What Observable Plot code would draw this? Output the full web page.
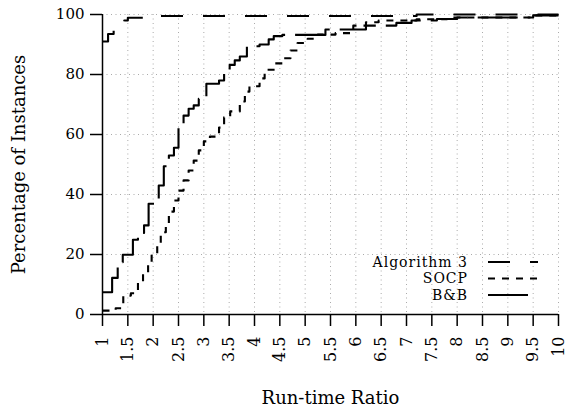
<!DOCTYPE html>
<html>
<head>
<meta charset="utf-8">
<script src="https://cdn.jsdelivr.net/npm/d3@7"></script>
<script src="https://cdn.jsdelivr.net/npm/@observablehq/plot@0.6"></script>
<style>
  html, body { margin: 0; padding: 0; background: #fff; }
  #wrap { position: relative; width: 570px; height: 411px; }
  #legend { position: absolute; left: 0; top: 0; }
</style>
</head>
<body>
<div id="wrap"></div>
<script>
// ---- data (step-after breakpoints) ----
const seriesNames = ["Algorithm 3", "SOCP", "B&B"];

const alg3X = [1, 1.11, 1.22, 1.43, 1.5, 1.8, 7.2, 10];
const alg3Y = [91, 93.5, 95, 98, 98.9, 99.5, 100, 100];

const socpX = [1, 1.26, 1.41, 1.56, 1.7, 1.8, 1.9, 1.97, 2.08, 2.15, 2.25, 2.31, 2.41, 2.5, 2.6, 2.7, 2.8, 2.9, 3.0, 3.12, 3.3, 3.4, 3.52, 3.71, 3.81, 3.9, 4.1, 4.2, 4.4, 4.55, 4.71, 4.85, 5.05, 5.25, 5.6, 5.95, 6.2, 6.45, 7.2, 7.8, 9.5, 10];
const socpY = [1.3, 2.1, 6.3, 7.1, 10.8, 14, 17.4, 20.2, 23.7, 27.4, 30.2, 34.3, 38, 41.3, 44.7, 48, 51.3, 54.7, 57.7, 59.3, 62.3, 65.7, 67.7, 71, 74.3, 76.1, 78.7, 81.6, 83.7, 85.4, 88, 90.5, 91.9, 93.3, 93.8, 96.3, 97.4, 98, 98.4, 99, 99.7, 99.7];

const bbX = [1, 1.19, 1.3, 1.4, 1.6, 1.7, 1.82, 1.91, 2.11, 2.21, 2.31, 2.41, 2.5, 2.6, 2.7, 2.8, 2.9, 3.05, 3.3, 3.4, 3.51, 3.61, 3.71, 3.85, 4.1, 4.28, 4.38, 4.55, 5.4, 6.2, 6.8, 7.1, 7.6, 8.0, 9.5, 10];
const bbY = [7.4, 12.2, 17.4, 19.9, 24.9, 27.2, 29.7, 36.9, 43, 49.4, 53, 55.6, 62.4, 66.3, 68.6, 69.7, 71.9, 76.9, 78, 81.3, 83.2, 84.7, 86, 89.4, 90, 91.7, 92.8, 93.2, 95, 96.3, 97.2, 98, 98.5, 99, 99.7, 99.7];

const xTicks = [1, 1.5, 2, 2.5, 3, 3.5, 4, 4.5, 5, 5.5, 6, 6.5, 7, 7.5, 8, 8.5, 9, 9.5, 10];
const yTicks = [0, 20, 40, 60, 80, 100];

// ---- build table ----
const dashes = {"Algorithm 3": "22,20", "SOCP": "7,7", "B&B": "40,10"};
const toRows = (name, xs, ys) => xs.map((x, i) => ({series: name, x, y: ys[i]}));
const rows = [
  ...toRows("Algorithm 3", alg3X, alg3Y),
  ...toRows("SOCP", socpX, socpY),
  ...toRows("B&B", bbX, bbY)
];

const FONT = "DejaVu Serif";

const chart = Plot.plot({
  width: 570,
  height: 411,
  marginLeft: 102,
  marginRight: 12,
  marginTop: 14,
  marginBottom: 97,
  style: {fontFamily: FONT, fontSize: "15px", color: "#000", background: "#fff"},
  x: {domain: [1, 10]},
  y: {domain: [0, 100]},
  marks: [
    Plot.gridX(xTicks, {stroke: "#aaa", strokeOpacity: 1, strokeDasharray: "1,3.5"}),
    Plot.gridY(yTicks, {stroke: "#aaa", strokeOpacity: 1, strokeDasharray: "1,3.5"}),
    Plot.axisX(xTicks, {
      tickSize: 12, tickPadding: 10, tickRotate: -90,
      tickFormat: d => String(d),
      label: null,
      strokeWidth: 1.5, fontSize: 16
    }),
    Plot.axisX({
      ticks: [], tickSize: 0,
      label: "Run-time Ratio", labelAnchor: "center", labelOffset: 89, labelArrow: "none",
      fontSize: 18
    }),
    Plot.axisY(yTicks, {
      tickSize: 12, tickPadding: 6,
      label: null,
      strokeWidth: 1.5, fontSize: 15
    }),
    Plot.axisY({
      ticks: [], tickSize: 0,
      label: "Percentage of Instances", labelAnchor: "center", labelOffset: 90, labelArrow: "none",
      fontSize: 18
    }),
    ...seriesNames.map(name => Plot.line(rows.filter(d => d.series === name), {
      x: "x", y: "y", curve: "step-after",
      stroke: "#000", strokeWidth: 2.1,
      strokeDasharray: dashes[name], strokeLinecap: "butt"
    })),
    Plot.ruleX([1], {stroke: "#000", strokeWidth: 1.5}),
    Plot.ruleY([0], {stroke: "#000", strokeWidth: 1.5})
  ]
});

const wrap = document.getElementById("wrap");
wrap.appendChild(chart);

// ---- legend overlay ----
const ns = "http://www.w3.org/2000/svg";
const leg = document.createElementNS(ns, "svg");
leg.setAttribute("id", "legend");
leg.setAttribute("width", 570);
leg.setAttribute("height", 411);
seriesNames.forEach((name, i) => {
  const yy = 262 + i * 16.5;
  const t = document.createElementNS(ns, "text");
  t.setAttribute("x", 468);
  t.setAttribute("y", yy);
  t.setAttribute("dy", "0.35em");
  t.setAttribute("text-anchor", "end");
  t.setAttribute("font-family", FONT);
  t.setAttribute("font-size", "14px");
  t.setAttribute("letter-spacing", "1px");
  t.textContent = name;
  leg.appendChild(t);
  const l = document.createElementNS(ns, "line");
  l.setAttribute("x1", 488); l.setAttribute("x2", 538);
  l.setAttribute("y1", yy); l.setAttribute("y2", yy);
  l.setAttribute("stroke", "#000");
  l.setAttribute("stroke-width", 2.1);
  l.setAttribute("stroke-dasharray", dashes[name]);
  leg.appendChild(l);
});
wrap.appendChild(leg);
</script>
</body>
</html>
